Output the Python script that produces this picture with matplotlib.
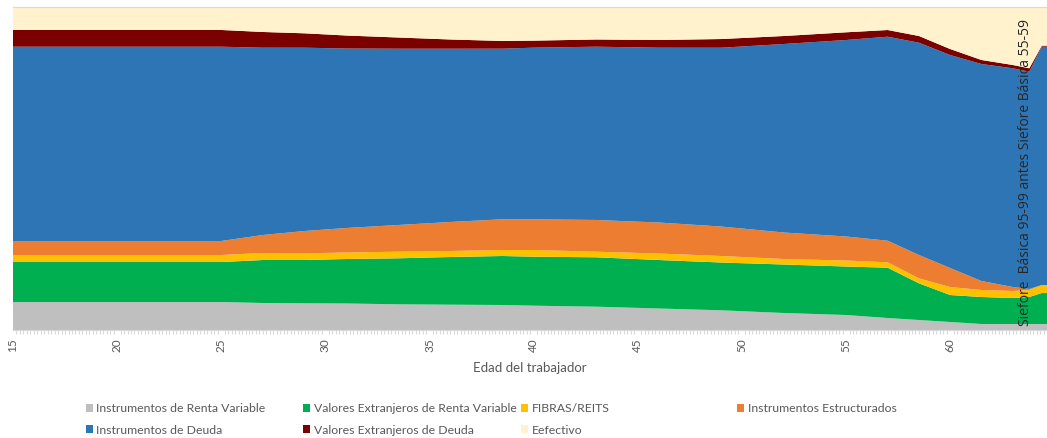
import matplotlib
matplotlib.use("Agg")
import matplotlib.pyplot as plt
from matplotlib.ticker import MultipleLocator
from matplotlib.patches import Patch

# Edad del trabajador
edades = [15, 25, 27, 29, 31, 33.5, 36, 38.5, 40, 43, 46, 49, 52, 55, 57, 58.5, 60, 61.5, 63, 63.8, 64.4, 65]

# Porcentaje de la cartera por tipo de activo
renta_variable = [8.66, 8.66, 8.35, 8.26, 8.20, 7.95, 7.83, 7.73, 7.52, 7.21, 6.65, 6.09, 5.26, 4.64, 3.71, 3.09, 2.47, 1.86, 1.86, 1.86, 1.86, 1.86]
ext_renta_variable = [12.37, 12.37, 13.30, 13.39, 13.76, 14.23, 14.75, 15.16, 15.16, 15.28, 15.00, 14.79, 15.00, 15.00, 15.56, 11.35, 8.35, 8.35, 8.04, 8.35, 9.59, 9.59]
fibras = [2.17, 2.17, 2.17, 2.07, 2.01, 2.04, 1.86, 1.86, 2.07, 1.73, 2.01, 2.01, 1.70, 1.86, 1.67, 1.55, 2.47, 2.17, 2.17, 2.17, 2.47, 2.47]
estructurados = [4.33, 4.33, 5.57, 6.90, 7.58, 8.26, 8.97, 9.50, 9.50, 9.81, 9.59, 9.12, 8.20, 7.42, 6.68, 7.21, 5.88, 2.78, 1.24, 0.31, 0.0, 0.0]
deuda = [60.10, 60.10, 57.93, 56.70, 55.52, 54.53, 53.60, 52.77, 53.08, 53.60, 54.07, 55.30, 58.30, 60.78, 63.10, 65.67, 65.88, 67.12, 67.65, 67.21, 73.71, 73.71]
ext_deuda = [5.17, 5.17, 4.86, 4.45, 4.02, 3.46, 2.85, 2.38, 2.17, 2.23, 2.38, 2.69, 2.47, 2.38, 2.07, 2.07, 1.86, 1.24, 1.02, 1.05, 0.31, 0.31]
efectivo = [7.21, 7.21, 7.83, 8.23, 8.91, 9.53, 10.15, 10.61, 10.52, 10.15, 10.30, 9.99, 9.06, 7.92, 7.21, 9.06, 13.08, 16.49, 18.03, 19.05, 12.06, 12.06]

series_nombres = ["Instrumentos de Renta Variable", "Valores Extranjeros de Renta Variable",
                  "FIBRAS/REITS", "Instrumentos Estructurados", "Instrumentos de Deuda",
                  "Valores Extranjeros de Deuda", "Eefectivo"]
colores = ["#BFBFBF", "#00B050", "#FFC000", "#ED7D31", "#2E75B6", "#7B0000", "#FFF2CC"]

nota = "Siefore  Básica 95-99 antes Siefore Básica 55-59"

fuente = ["Lato", "DejaVu Sans"]
gris_texto = "#595959"

fig = plt.figure(figsize=(10.47, 4.38), dpi=100)
ax = fig.add_axes([13 / 1047, 108 / 438, 1 - 13 / 1047, 323.3 / 438])

ax.stackplot(edades, renta_variable, ext_renta_variable, fibras, estructurados,
             deuda, ext_deuda, efectivo, colors=colores, linewidth=0)

ax.set_xlim(15, 64.65)
ax.set_ylim(0, 100)
ax.set_yticks([])

# Eje x con etiquetas verticales
ax.xaxis.set_major_locator(MultipleLocator(5))
ax.xaxis.set_minor_locator(MultipleLocator(1 / 6))
ax.tick_params(axis="x", which="major", length=0, pad=6, labelsize=8.5,
               labelcolor=gris_texto, labelrotation=90)
ax.tick_params(axis="x", which="minor", length=3, color="#D9D9D9", width=0.8)
for lbl in ax.get_xticklabels():
    lbl.set_family(fuente)
ax.set_xlabel("Edad del trabajador", fontsize=9.5, color=gris_texto, family=fuente, labelpad=7)

for lado in ["left", "right"]:
    ax.spines[lado].set_visible(False)
ax.spines["bottom"].set_color("#D9D9D9")
ax.spines["top"].set_color("#D9D9D9")

ax.text(63.63, 48.6, nota, rotation=90, ha="center", va="center",
        fontsize=10, color="#262626", family=["Open Sans", "DejaVu Sans"])

# Leyenda en columnas fijas (dos filas)
columnas = [[0, 4], [1, 5], [2, 6], [3]]
x_cols = [80, 297, 515, 731]
for idxs, xc in zip(columnas, x_cols):
    handles = [Patch(facecolor=colores[i], edgecolor="none") for i in idxs]
    labels = [series_nombres[i] for i in idxs]
    leg = fig.legend(handles, labels, loc="upper left",
                     bbox_to_anchor=(xc / 1047, 1 - 397 / 438),
                     frameon=False, handlelength=0.6, handleheight=0.6,
                     handletextpad=0.25, labelspacing=0.85, borderpad=0,
                     prop={"family": fuente, "size": 8.8})
    for t in leg.get_texts():
        t.set_color(gris_texto)

fig.savefig("out.png", dpi=100)
